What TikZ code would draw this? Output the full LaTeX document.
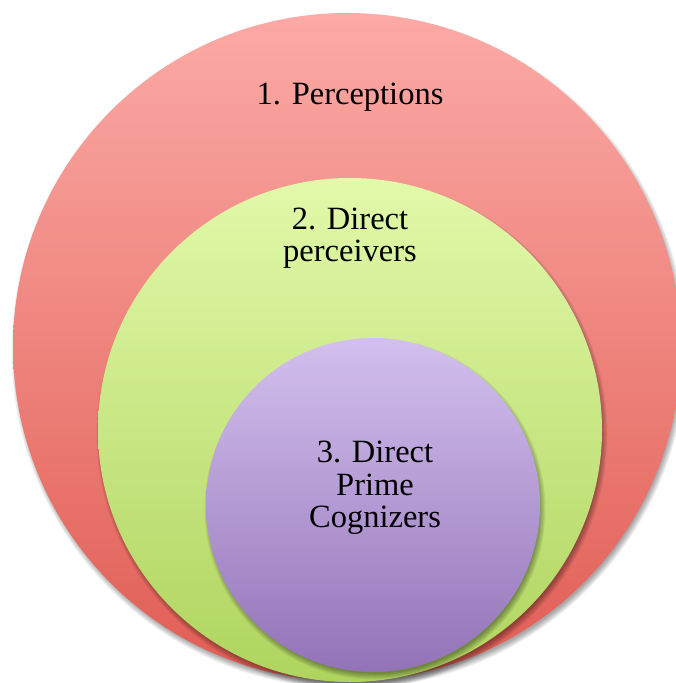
\documentclass[tikz,border=0pt]{standalone}
\usepackage{fontspec}
\setmainfont{Liberation Serif}
\definecolor{redtop}{HTML}{FCAAA6}
\definecolor{redbot}{HTML}{E05D54}
\definecolor{greentop}{HTML}{E2F9AA}
\definecolor{greenbot}{HTML}{AFD45E}
\definecolor{purptop}{HTML}{D3C0EE}
\definecolor{purpbot}{HTML}{9373B8}
\tikzset{
  label text/.style={align=center, text=black, inner sep=0pt,
    font=\fontsize{32.5}{32.5}\selectfont},
}
% soft shadow under a disc: centre (#1,#2), radius #3
\newcommand{\softdisc}[3]{%
  \foreach \k in {0,...,6}{%
    \fill[black, opacity=0.06] (#1+2,#2+4) circle ({#3+3.5-\k});
  }%
}
\begin{document}
\begin{tikzpicture}[x=1pt,y=-1pt]
  \useasboundingbox (0,0) rectangle (676,683);
  \clip (0,0) rectangle (676,683);
  % outer disc
  \softdisc{347}{347}{334}
  \shade[top color=redtop, bottom color=redbot] (347,347) circle (334);
  \node[label text] (p1) at (350,97) {1. Perceptions};
  % middle disc
  \softdisc{350}{430}{252}
  \shade[top color=greentop, bottom color=greenbot] (350,430) circle (252);
  \node[label text] (p2) at (350,238) {2. Direct\\perceivers};
  % inner disc
  \softdisc{373}{505}{167}
  \shade[top color=purptop, bottom color=purpbot] (373,505) circle (167);
  \node[label text] (p3) at (375,488) {3. Direct\\Prime\\Cognizers};
\end{tikzpicture}
\end{document}
